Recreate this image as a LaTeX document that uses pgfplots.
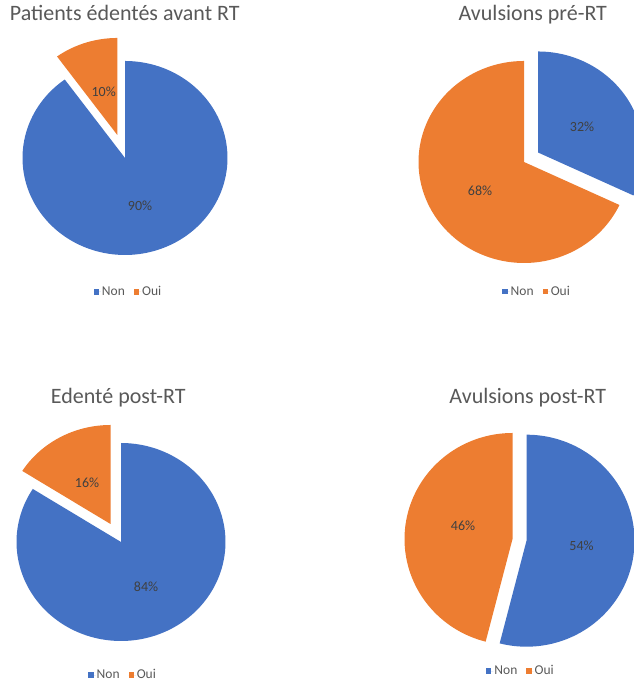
\documentclass[border=0pt]{standalone}
\usepackage{pgfplots}
\pgfplotsset{compat=1.18}
\usepackage{pgfplotstable}
\usepackage{fontspec}
\setmainfont{Carlito}
\definecolor{cblue}{HTML}{4472C4}
\definecolor{corange}{HTML}{ED7D31}
\definecolor{ctitle}{HTML}{595959}
\definecolor{clabel}{HTML}{404040}

\makeatletter
\tikzset{counted/.code={\pgf@relevantforpicturesizetrue}}
\makeatother

\pgfplotstableread{
cat value
Non 90
Oui 10
}\dataA
\pgfplotstableread{
cat value
Non 32
Oui 68
}\dataB
\pgfplotstableread{
cat value
Non 84
Oui 16
}\dataC
\pgfplotstableread{
cat value
Non 54
Oui 46
}\dataD

\newcommand{\getval}[3]{\pgfplotstablegetelem{#1}{value}\of#2\let#3\pgfplotsretval}

% color, cx, cy, rx, ry, start angle, end angle
\newcommand{\slice}[7]{%
  \addplot[overlay, fill=#1, draw=none, domain=#6:#7, samples=150, variable=\t]
    ({#2+#4*cos(\t)}, {#3+#5*sin(\t)}) -- (axis cs:#2,#3) -- cycle;}

\tikzset{lbl/.style={font=\fontsize{14}{16}\selectfont, text=clabel, inner sep=0pt}}

\pgfplotsset{
  piepanel/.style={
    at={(0pt,0pt)}, anchor=south west,
    width=633pt, height=684pt, scale only axis,
    xmin=0, xmax=633, ymin=0, ymax=684,
    hide axis, clip=false,
    title style={font=\fontsize{22}{25}\selectfont, text=ctitle, anchor=base, inner sep=0pt},
    legend columns=2,
    legend style={draw=none, fill=none, anchor=center, inner sep=0pt,
      font=\fontsize{13.5}{16}\selectfont,
      nodes={text=ctitle, inner sep=1pt},
      /tikz/every even column/.append style={column sep=8pt}},
    legend image code/.code={\fill[##1, counted] (0pt,-2.6pt) rectangle (5.2pt,2.6pt); \path[counted] (0pt,0pt) -- (7.2pt,0pt);},
    legend entries={Non,Oui},
  },
}

\getval{0}{\dataA}{\nonA}\getval{1}{\dataA}{\ouiA}
\getval{0}{\dataB}{\nonB}\getval{1}{\dataB}{\ouiB}
\getval{0}{\dataC}{\nonC}\getval{1}{\dataC}{\ouiC}
\getval{0}{\dataD}{\nonD}\getval{1}{\dataD}{\ouiD}
\pgfmathsetmacro\angA{90-3.6*\nonA}
\pgfmathsetmacro\angB{90-3.6*\nonB}
\pgfmathsetmacro\angC{90-3.6*\nonC}
\pgfmathsetmacro\angD{90-3.6*\nonD}

\begin{document}%
\begin{tikzpicture}
\useasboundingbox (0,0) rectangle (633pt,684pt);
% Panel A
\begin{axis}[piepanel,
  title={Patients édentés avant RT},
  title style={at={(axis description cs:124.7/633,657.3/684)}},
  legend style={at={(axis description cs:128/633,392/684)}}]
  \slice{cblue}{125}{526}{102.5}{97}{\angA}{90}
  \slice{corange}{117.3}{549}{102.5}{97}{-270}{\angA}
  \node[lbl] at (axis cs:140,478.3) {\nonA\%};
  \node[lbl] at (axis cs:103.7,592) {\ouiA\%};
\end{axis}
% Panel B
\begin{axis}[piepanel,
  title={Avulsions pré-RT},
  title style={at={(axis description cs:532.8/633,657.3/684)}},
  legend style={at={(axis description cs:536.7/633,392.3/684)}}]
  \slice{cblue}{538}{531.5}{105.5}{101}{\angB}{90}
  \slice{corange}{524}{522}{105.5}{101}{-270}{\angB}
  \node[lbl] at (axis cs:582,557.7) {\nonB\%};
  \node[lbl] at (axis cs:480,493.7) {\ouiB\%};
\end{axis}
% Panel C
\begin{axis}[piepanel,
  title={Edenté post-RT},
  title style={at={(axis description cs:118.3/633,274.7/684)}},
  legend style={at={(axis description cs:122.7/633,9/684)}}]
  \slice{cblue}{121}{142}{104.5}{99}{\angC}{90}
  \slice{corange}{110.5}{160}{104.5}{99}{-270}{\angC}
  \node[lbl] at (axis cs:146,97.3) {\nonC\%};
  \node[lbl] at (axis cs:87,201.5) {\ouiC\%};
\end{axis}
% Panel D
\begin{axis}[piepanel,
  title={Avulsions post-RT},
  title style={at={(axis description cs:527.8/633,274.7/684)}},
  legend style={at={(axis description cs:520.5/633,13/684)}}]
  \slice{cblue}{526.5}{143.3}{108}{106}{\angD}{90}
  \slice{corange}{512.5}{145}{108}{106}{-270}{\angD}
  \node[lbl] at (axis cs:581.5,138.5) {\nonD\%};
  \node[lbl] at (axis cs:463,158) {\ouiD\%};
\end{axis}
\end{tikzpicture}%
\end{document}
